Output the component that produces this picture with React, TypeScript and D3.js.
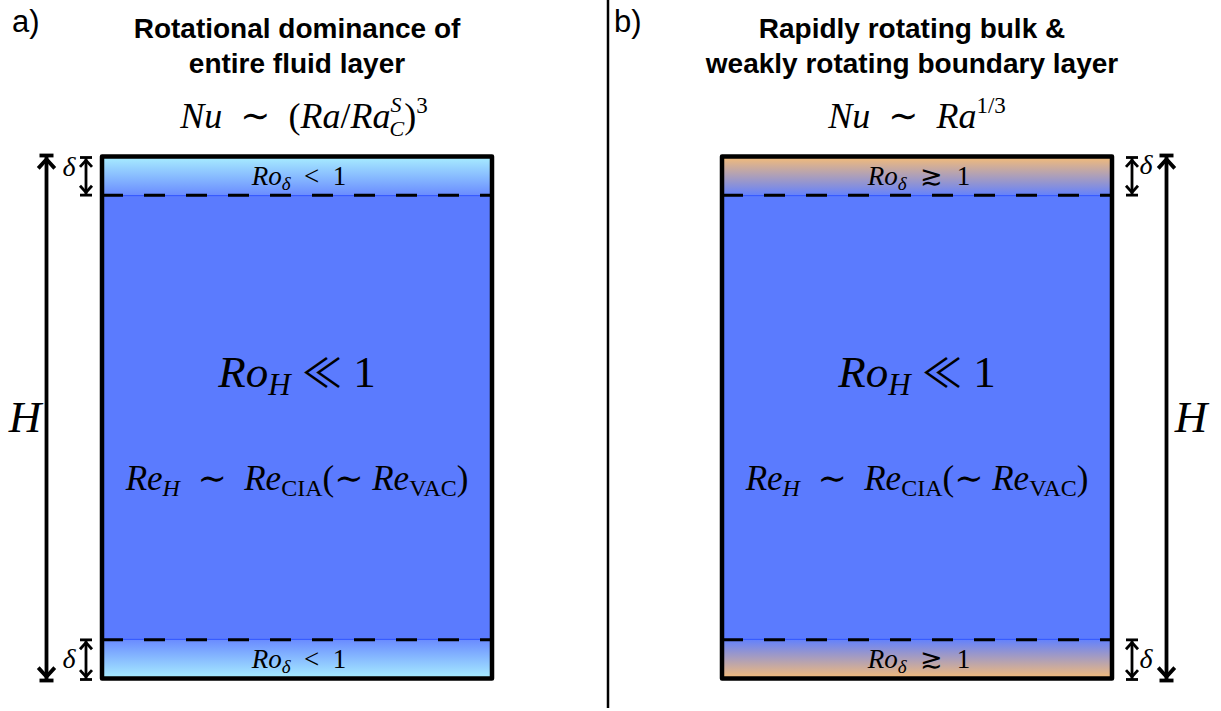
import React from "react";
import * as d3 from "d3";

const WIDTH = 1221;
const HEIGHT = 711;

// Depth positions (fraction of H, measured from the top wall) of the layer boundaries
const layerEdges = [0, 0.074, 0.926, 1];

// Panel content
const panelLetters = ["a)", "b)"];
const panelTitles = [
  ["Rotational dominance of", "entire fluid layer"],
  ["Rapidly rotating bulk &", "weakly rotating boundary layer"],
];
const boundaryColors = ["#a8eeff", "#f5bc77"];
const bulkColor = "#5b7bfe";
const seamColor = "#2f55ff";

// Horizontal extents of the two fluid boxes
const boxLeft = [102, 722];
const boxRight = [492, 1112];

const yScale = d3.scaleLinear().domain([0, 1]).range([156.5, 678.5]);

const SERIF = "'Liberation Serif', 'DejaVu Serif', serif";
const SANS = "'Liberation Sans', Arial, Helvetica, sans-serif";
const SYMBOL = "'Noto Sans CJK JP', 'DejaVu Serif', serif";
const THICK = "\u2005";
const EN = "\u2002";

type ArrowProps = { x: number; y1: number; y2: number; half: number; head: number; sw: number };

// Double-headed dimension arrow with end bars
function DimArrow({ x, y1, y2, half, head, sw }: ArrowProps) {
  const hw = head * 0.75;
  return (
    <g stroke="#000" strokeWidth={sw} fill="none" strokeLinecap="butt" strokeLinejoin="miter">
      <line x1={x} y1={y1} x2={x} y2={y2} />
      <line x1={x - half} y1={y1} x2={x + half} y2={y1} />
      <line x1={x - half} y1={y2} x2={x + half} y2={y2} />
      <polyline points={`${x - hw},${y1 + head + sw / 2} ${x},${y1 + sw} ${x + hw},${y1 + head + sw / 2}`} />
      <polyline points={`${x - hw},${y2 - head - sw / 2} ${x},${y2 - sw} ${x + hw},${y2 - head - sw / 2}`} />
    </g>
  );
}

function RoDelta({ x, y, approx }: { x: number; y: number; approx: boolean }) {
  return (
    <text x={x} y={y} fontFamily={SERIF} fontSize={27} textAnchor="middle" fill="#000">
      <tspan fontStyle="italic">Ro</tspan>
      <tspan fontStyle="italic" fontSize={19} dy={5}>δ</tspan>
      <tspan dy={-5}>{approx ? `${EN}\u2273${EN}1` : `${EN}<${EN}1`}</tspan>
    </text>
  );
}

function Panel({ i }: { i: number }) {
  const x0 = boxLeft[i];
  const x1 = boxRight[i];
  const cx = (x0 + x1) / 2;
  const yTop = yScale(layerEdges[0]);
  const yB1 = yScale(layerEdges[1]);
  const yB2 = yScale(layerEdges[2]);
  const yBot = yScale(layerEdges[3]);
  const gTop = `grad-top-${i}`;
  const gBot = `grad-bot-${i}`;
  const left = i === 0;
  const deltaX = left ? 86 : 1132;
  const bigX = left ? 46.5 : 1166.5;

  return (
    <g>
      <defs>
        <linearGradient id={gTop} x1="0" y1="0" x2="0" y2="1">
          <stop offset="0" stopColor={boundaryColors[i]} />
          <stop offset="1" stopColor={left ? "#6a8cff" : "#6582fb"} />
        </linearGradient>
        <linearGradient id={gBot} x1="0" y1="0" x2="0" y2="1">
          <stop offset="0" stopColor={left ? "#6a8cff" : "#6582fb"} />
          <stop offset="1" stopColor={boundaryColors[i]} />
        </linearGradient>
      </defs>

      {/* panel letter and title */}
      <text x={left ? 12 : 614} y={32} fontFamily={SANS} fontSize={31} fontWeight={300} fill="#000">
        {panelLetters[i]}
      </text>
      {panelTitles[i].map((line, k) => (
        <text key={k} x={left ? 297 : 912} y={38 + k * 35} fontFamily={SANS} fontSize={28}
          fontWeight="bold" textAnchor="middle" fill="#000">
          {line}
        </text>
      ))}

      {/* scaling law */}
      {left ? (
        <text x={304} y={128} fontFamily={SERIF} fontSize={36} textAnchor="middle" fill="#000">
          <tspan fontStyle="italic">Nu</tspan>
          <tspan>{`${EN}∼${EN}(`}</tspan>
          <tspan fontStyle="italic">Ra</tspan>
          <tspan>/</tspan>
          <tspan fontStyle="italic">Ra</tspan>
          <tspan fontStyle="italic" fontSize={22} dy={-16}>S</tspan>
          <tspan fontStyle="italic" fontSize={22} dx={-12} dy={24}>C</tspan>
          <tspan dy={-8}>)</tspan>
          <tspan fontSize={23} dy={-15}>3</tspan>
        </text>
      ) : (
        <text x={917} y={128} fontFamily={SERIF} fontSize={36} textAnchor="middle" fill="#000">
          <tspan fontStyle="italic">Nu</tspan>
          <tspan>{`${EN}∼${EN}`}</tspan>
          <tspan fontStyle="italic">Ra</tspan>
          <tspan fontSize={23} dy={-15}>1/3</tspan>
        </text>
      )}

      {/* fluid layers */}
      <rect x={x0} y={yB1} width={x1 - x0} height={yB2 - yB1} fill={bulkColor} />
      <rect x={x0} y={yTop} width={x1 - x0} height={yB1 - yTop} fill={`url(#${gTop})`} />
      <rect x={x0} y={yB2} width={x1 - x0} height={yBot - yB2} fill={`url(#${gBot})`} />
      <line x1={x0} x2={x1} y1={yB1 + 0.5} y2={yB1 + 0.5} stroke={seamColor} strokeWidth={1} />
      <line x1={x0} x2={x1} y1={yB2 - 0.5} y2={yB2 - 0.5} stroke={seamColor} strokeWidth={1} />
      <line x1={x0} x2={x1} y1={yB1} y2={yB1} stroke="#000" strokeWidth={3} strokeDasharray="21 21" />
      <line x1={x0} x2={x1} y1={yB2} y2={yB2} stroke="#000" strokeWidth={3} strokeDasharray="21 21" />
      <rect x={x0} y={yTop} width={x1 - x0} height={yBot - yTop} fill="none" stroke="#000"
        strokeWidth={4.5} strokeLinejoin="round" />

      {/* layer labels */}
      <RoDelta x={cx + 2} y={185} approx={!left} />
      <RoDelta x={cx + 2} y={668} approx={!left} />

      <text x={cx} y={387} fontFamily={SERIF} fontSize={45} textAnchor="middle" fill="#000">
        <tspan fontStyle="italic">Ro</tspan>
        <tspan fontStyle="italic" fontSize={31} dy={8}>H</tspan>
        <tspan dy={-8}>{THICK}</tspan>
        <tspan fontFamily={SYMBOL} fontSize={40}>≪</tspan>
        <tspan>{`${THICK}1`}</tspan>
      </text>

      <text x={cx} y={490} fontFamily={SERIF} fontSize={35} textAnchor="middle" fill="#000">
        <tspan fontStyle="italic">Re</tspan>
        <tspan fontStyle="italic" fontSize={24} dy={6}>H</tspan>
        <tspan dy={-6}>{`${EN}∼${EN}`}</tspan>
        <tspan fontStyle="italic">Re</tspan>
        <tspan fontSize={24} dy={6}>CIA</tspan>
        <tspan dy={-6}>{`(∼${THICK}`}</tspan>
        <tspan fontStyle="italic">Re</tspan>
        <tspan fontSize={24} dy={6}>VAC</tspan>
        <tspan dy={-6}>)</tspan>
      </text>

      {/* dimension arrows */}
      <DimArrow x={deltaX} y1={yTop + 1} y2={yB1} half={6} head={8} sw={2.8} />
      <DimArrow x={deltaX} y1={yB2} y2={yBot + 1} half={6} head={8} sw={2.8} />
      <DimArrow x={bigX} y1={yTop - 1} y2={yBot + 2} half={7} head={11} sw={3.8} />

      <text x={left ? 69 : 1146} y={left ? 176 : 174} fontFamily={SERIF} fontStyle="italic" fontSize={28}
        textAnchor="middle" fill="#000">δ</text>
      <text x={left ? 69 : 1146} y={668} fontFamily={SERIF} fontStyle="italic" fontSize={28}
        textAnchor="middle" fill="#000">δ</text>
      <text x={left ? 25 : 1191} y={432} fontFamily={SERIF} fontStyle="italic" fontSize={45}
        textAnchor="middle" fill="#000">H</text>
    </g>
  );
}

export default function App() {
  return (
    <svg width={WIDTH} height={HEIGHT} viewBox={`0 0 ${WIDTH} ${HEIGHT}`}
      style={{ position: "absolute", left: 0, top: 0, background: "#fff" }}>
      <rect width={WIDTH} height={HEIGHT} fill="#fff" />
      <line x1={608} x2={608} y1={0} y2={708} stroke="#000" strokeWidth={2.5} />
      {[0, 1].map((i) => (
        <Panel key={i} i={i} />
      ))}
    </svg>
  );
}
